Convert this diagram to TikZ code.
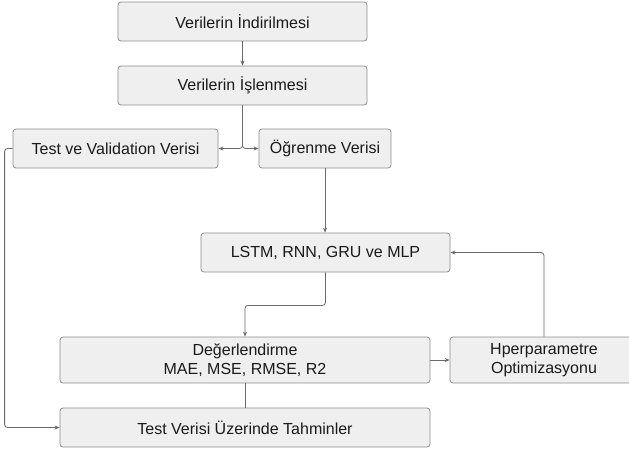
\documentclass[tikz,border=0pt]{standalone}
\usepackage{fontspec}
\setmainfont{Liberation Sans}
\usetikzlibrary{arrows.meta, calc}
\definecolor{boxfill}{HTML}{EFEFEF}
\definecolor{boxline}{HTML}{8C8C8C}
\definecolor{flowline}{HTML}{6A6A6A}
\definecolor{textmain}{HTML}{1A1A1A}

\begin{document}
\begin{tikzpicture}[x=1pt, y=-1pt,
      >={Stealth[length=5pt, width=4pt]}, font=\fontsize{16}{19}\selectfont,
      step box/.style={draw=boxline, fill=boxfill, rounded corners=3pt, line width=0.8pt,
        text=textmain, align=center, inner sep=2pt, minimum height=39pt},
      rel/.style={->, draw=flowline, line width=0.8pt, rounded corners=3pt},
      link/.style={draw=flowline, line width=0.8pt}]
    \useasboundingbox (0,0) rectangle (629,450);
    \node[step box, minimum width=249pt] (indir) at (242.5,21.5) {Verilerin İndirilmesi};
    \node[step box, minimum width=249pt] (islen) at (242.5,85.5) {Verilerin İşlenmesi};
    \node[step box, minimum width=205pt] (testval) at (115.5,148.5) {Test ve Validation Verisi};
    \node[step box, minimum width=132pt] (ogren) at (325,148.5) {Öğrenme Verisi};
    \node[step box, minimum width=249pt] (model) at (325.5,252.5) {LSTM, RNN, GRU ve MLP};
    \node[step box, minimum width=370pt, minimum height=46pt] (deger) at (245,360) {Değerlendirme\\MAE, MSE, RMSE, R2};
    \node[step box, minimum width=188pt, minimum height=46pt] (hyper) at (544,360) {Hperparametre\\Optimizasyonu};
    \node[step box, minimum width=370pt] (tahmin) at (245,427.5) {Test Verisi Üzerinde Tahminler};
    \draw[rel] (indir) -- (islen);
    \draw[rel] (islen.south) |- (testval.east);
    \draw[rel] (islen.south) |- (ogren.west);
    \draw[rel] (ogren.south) -- (ogren.south |- model.north);
    \draw[rel] (model.south) -- ++(0,33) -| (deger.north);
    \draw[rel] (deger) -- (hyper);
    \draw[rel] (hyper.north) |- (model.east);
    \draw[link] (deger) -- (tahmin);
    \draw[rel] (testval.west) -- ++(-8,0) |- (tahmin.west);
  \end{tikzpicture}
\end{document}
